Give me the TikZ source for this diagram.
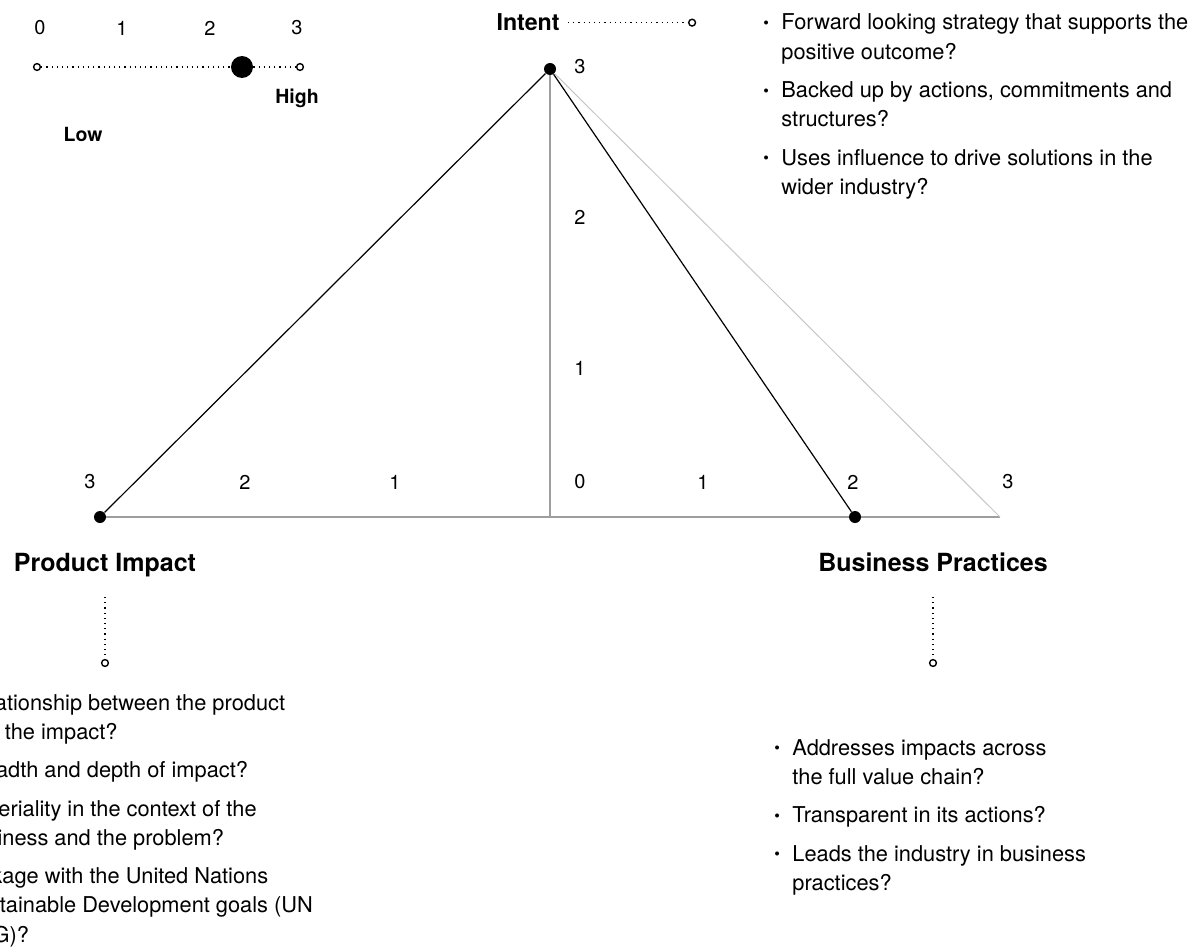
\documentclass[tikz,border=0pt]{standalone}
\usepackage{fontspec}
\setmainfont{TeX Gyre Heros}
\usetikzlibrary{positioning}

% bullet list in a top-aligned box, one bullet point with hanging text
\newcommand{\qlist}[1]{\begin{minipage}[t]{240pt}\raggedright\setlength{\parskip}{4.6pt}#1\end{minipage}}
\newcommand{\qitem}[1]{\par{\let\\\newline\noindent\hangindent=9pt\hangafter=1\makebox[9pt][l]{\raisebox{0.7pt}{\footnotesize\textbullet}}#1\par}}

\begin{document}
\begin{tikzpicture}[
        x=0.5pt, y=-0.5pt,
        node distance=8pt and 10pt,
        dot/.style={circle, fill=black, inner sep=0pt, minimum size=6pt},
        knob/.style={circle, fill=black, inner sep=0pt, minimum size=11pt},
        ring/.style={circle, draw, fill=white, inner sep=0pt, minimum size=3.4pt, line width=0.7pt},
        heading/.style={font=\bfseries\fontsize{12.5}{15}\selectfont, inner sep=0pt, anchor=base},
        lowhigh/.style={font=\bfseries\fontsize{9.75}{12}\selectfont, inner sep=0pt, anchor=base},
        tick/.style={font=\fontsize{10}{12}\selectfont, inner sep=0pt},
        questions/.style={inner sep=0pt, anchor=base west, font=\fontsize{10.9}{14.6}\selectfont},
        leader/.style={dotted, line width=0.6pt},
        edge/.style={line width=0.6pt},
        axis/.style={line width=0.75pt, black!38},
        faint/.style={line width=0.5pt, black!22}
    ]
        \useasboundingbox (0,0) rectangle (1198,947);
        \clip (0,0) rectangle (1198,947);

        % Thang do
        \foreach \v/\xx in {0/40, 1/122, 2/210, 3/297}
            \node[tick] (scale\v) at (\xx,28) {\v};
        \node[ring] (low) at (37,67) {};
        \node[ring] (high) at (300,67) {};
        \node[knob] (marker) at (242,67) {};
        \draw[leader] (low) -- (marker);
        \draw[leader] (marker) -- (high);
        \node[lowhigh] (hightext) at (297,104) {High};
        \node[lowhigh] (lowtext) at (83,141) {Low};

        % Cac dinh
        \node[dot] (intent) at (550,69) {};
        \node[dot] (product) at (100,517) {};
        \node[dot] (business) at (855,517) {};
        \coordinate (origin) at (550,517);
        \coordinate (far) at (1000,517);

        % Cac truc
        \draw[axis] (product) -- (business);
        \draw[axis] (business) -- (far);
        \draw[axis, line width=0.6pt] (intent) -- (origin);
        \draw[faint] (intent) -- (far);
        \draw[edge] (intent) -- (product);
        \draw[edge] (intent) -- (business);

        % Cac gia tri
        \foreach \v/\xx in {3/90, 2/245, 1/395, 0/580, 1/703, 2/853, 3/1008}
            \node[tick] at (\xx,482) {\v};
        \foreach \v/\yy in {3/67, 2/217, 1/368}
            \node[tick] at (580,\yy) {\v};

        % Nhan va duong dan
        \node[heading, font=\bfseries\fontsize{11.6}{14}\selectfont, anchor=base east] (intentlabel) at (560,31) {Intent};
        \node[ring, right=64pt of intentlabel] (intentend) {};
        \draw[leader] ([xshift=4pt]intentlabel.east) -- (intentend);

        \node[heading] (productlabel) at (105,571) {Product Impact};
        \node[ring] (productend) at ([yshift=-46pt]productlabel.base) {};
        \draw[leader] ([yshift=-13pt]productlabel.base) -- (productend);

        \node[heading] (businesslabel) at (933,571) {Business Practices};
        \node[ring] (businessend) at ([yshift=-46pt]businesslabel.base) {};
        \draw[leader] ([yshift=-13pt]businesslabel.base) -- (businessend);

        % Cau hoi
        \node[questions] (intentq) at (763,30) {\qlist{%
            \qitem{Forward looking strategy that supports the\\ positive outcome?}
            \qitem{Backed up by actions, commitments and\\ structures?}
            \qitem{Uses influence to drive solutions in the\\ wider industry?}}};
        \node[questions] (productq) at (-56,710) {\qlist{%
            \qitem{Relationship between the product\\ and the impact?}
            \qitem{Breadth and depth of impact?}
            \qitem{Materiality in the context of the\\ business and the problem?}
            \qitem{Linkage with the United Nations\\ Sustainable Development goals (UN\\ SDG)?}}};
        \node[questions] (businessq) at (774,755) {\qlist{%
            \qitem{Addresses impacts across\\ the full value chain?}
            \qitem{Transparent in its actions?}
            \qitem{Leads the industry in business\\ practices?}}};
    \end{tikzpicture}
\end{document}
